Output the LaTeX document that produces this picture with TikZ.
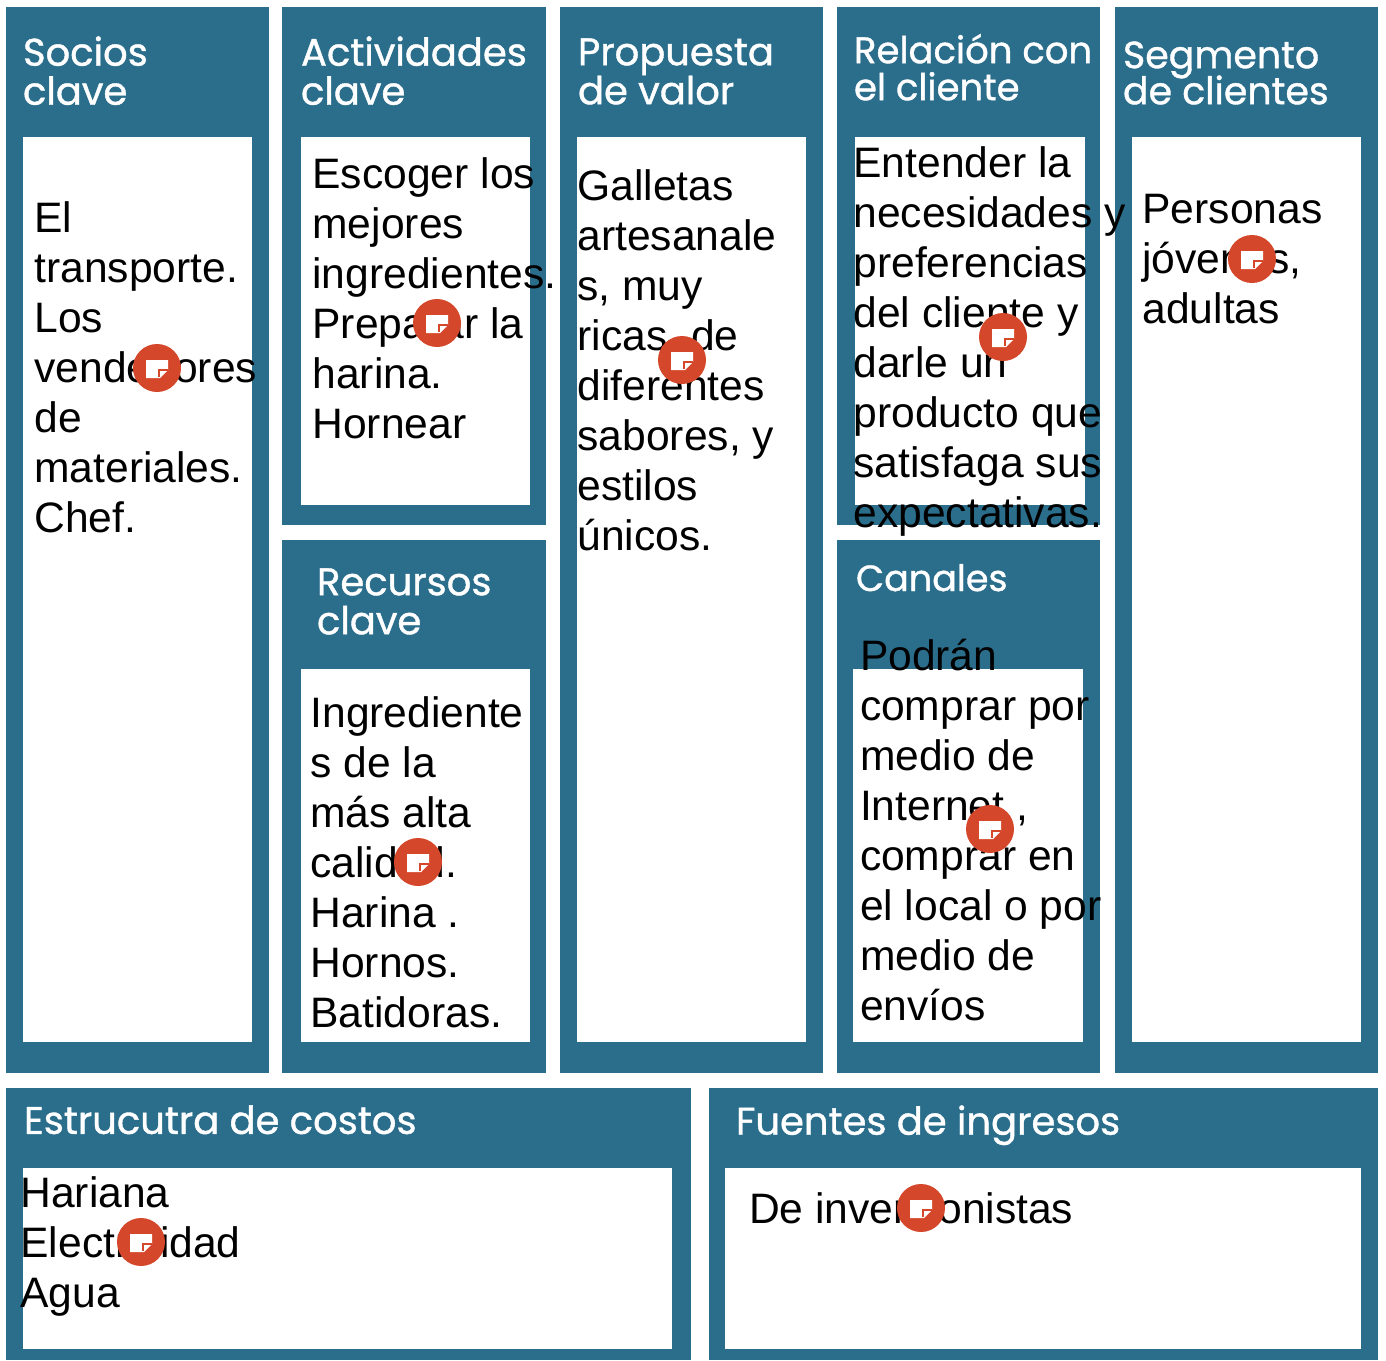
\documentclass[tikz,border=0pt]{standalone}
\usepackage{fontspec}
\setmainfont{Liberation Sans}
\newfontfamily\titlefont[FakeBold=1]{Poppins}
\definecolor{panelblue}{HTML}{2A6E8C}
\definecolor{notered}{HTML}{D4472A}
\tikzset{
  panel/.style={rectangle, fill=panelblue, inner sep=0pt, outer sep=0pt, anchor=north west},
  inbox/.style={rectangle, fill=white, inner sep=0pt, outer sep=0pt, anchor=north west},
  title/.style={inner sep=0pt, outer sep=0pt, anchor=north west, align=left, text=white, font=\titlefont\fontsize{38.5}{39}\selectfont},
  body/.style={inner sep=0pt, outer sep=0pt, anchor=north west, align=left, text=black, font=\fontsize{42.6}{50}\selectfont},
  notemark/.style={circle, fill=notered, inner sep=0pt, outer sep=0pt, minimum size=48pt}
}
\begin{document}
\begin{tikzpicture}[x=1pt,y=-1pt]
\useasboundingbox (0,0) rectangle (1386,1360);
\node[panel, minimum width=263pt, minimum height=1066pt] (socios) at (6,7){};
\node[panel, minimum width=264pt, minimum height=518pt] (actividades) at (282,7){};
\node[panel, minimum width=264pt, minimum height=533pt] (recursos) at (282,540){};
\node[panel, minimum width=263pt, minimum height=1066pt] (propuesta) at (560,7){};
\node[panel, minimum width=263pt, minimum height=518pt] (relacion) at (837,7){};
\node[panel, minimum width=263pt, minimum height=533pt] (canales) at (837,540){};
\node[panel, minimum width=263pt, minimum height=1066pt] (segmento) at (1115,7){};
\node[panel, minimum width=685pt, minimum height=272pt] (costos) at (6,1088){};
\node[panel, minimum width=669pt, minimum height=272pt] (ingresos) at (709,1088){};
\node[inbox, minimum width=229pt, minimum height=905pt] (sociosbox) at (23,137){};
\node[inbox, minimum width=229pt, minimum height=368pt] (actividadesbox) at (301,137){};
\node[inbox, minimum width=229pt, minimum height=373pt] (recursosbox) at (301,669){};
\node[inbox, minimum width=229pt, minimum height=905pt] (propuestabox) at (577,137){};
\node[inbox, minimum width=230pt, minimum height=368pt] (relacionbox) at (855,137){};
\node[inbox, minimum width=230pt, minimum height=373pt] (canalesbox) at (853,669){};
\node[inbox, minimum width=229pt, minimum height=905pt] (segmentobox) at (1132,137){};
\node[inbox, minimum width=649pt, minimum height=181pt] (costosbox) at (23,1168){};
\node[inbox, minimum width=636pt, minimum height=181pt] (ingresosbox) at (725,1168){};
\node[title] (sociostitle) at (23,36.4){Socios\\clave};
\node[title] (actividadestitle) at (301,36.4){Actividades\\clave};
\node[title] (propuestatitle) at (578,38.4){Propuesta\\de valor};
\node[title, font=\titlefont\fontsize{37}{37}\selectfont] (relaciontitle) at (854,34){Relación con\\el cliente};
\node[title, font=\titlefont\fontsize{37.9}{36}\selectfont] (segmentotitle) at (1123,41.4){Segmento\\[-4pt]de clientes};
\node[title] (recursostitle) at (317,568.4){Recursos\\clave};
\node[title, font=\titlefont\fontsize{36.5}{39}\selectfont] (canalestitle) at (856,564){Canales};
\node[title] (costostitle) at (24,1105.4){Estrucutra de costos};
\node[title] (ingresostitle) at (736,1105.4){Fuentes de ingresos};
\node[body] (sociostext) at (34.5,202){El\\transporte.\\Los\\vendedores\\de\\materiales.\\Chef.};
\node[body] (actividadestext) at (312.5,158){Escoger los\\mejores\\ingredientes.\\Preparar la\\harina.\\Hornear};
\node[body] (recursostext) at (310.5,697){Ingrediente\\s de la\\más alta\\calidad.\\Harina .\\Hornos.\\Batidoras.};
\node[body] (propuestatext) at (577.5,170){Galletas\\artesanale\\s, muy\\ricas, de\\diferentes\\sabores, y\\estilos\\únicos.};
\node[body] (relaciontext) at (853.5,146.5){Entender la\\necesidades y\\preferencias\\del cliente y\\darle un\\producto que\\satisfaga sus\\expectativas.};
\node[body] (canalestext) at (860,639.5){Podrán\\comprar por\\medio de\\Internet ,\\comprar en\\el local o por\\medio de\\envíos};
\node[body] (segmentotext) at (1142.5,194){Personas\\jóvenes,\\adultas};
\node[body] (costostext) at (20.5,1176.5){Hariana\\Electricidad\\Agua};
\node[body] (ingresostext) at (749,1192.5){De inversionistas};
\foreach \nid/\nx/\ny in {a/157/368, b/437/323, c/418/862, d/682/360, e/1003/337, f/990/829, g/1252/259, h/141/1242, i/921/1208}{
  \node[notemark] (note\nid) at (\nx,\ny){};
  \fill[white] ([shift={(-11,-8)}]note\nid.center) -- ++(22,0) -- ++(0,10) -- ++(-8,8) -- ++(-14,0) -- cycle;
  \draw[notered, line width=1.4pt] ([shift={(2,9)}]note\nid.center) -- ++(0,-7) -- ++(9,0);
}
\end{tikzpicture}
\end{document}
